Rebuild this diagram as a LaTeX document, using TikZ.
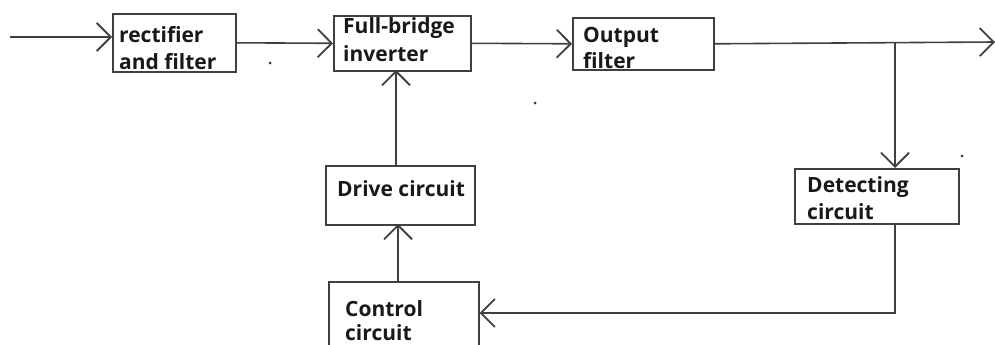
\documentclass[tikz,border=0pt]{standalone}
\usepackage{fontspec}
\setmainfont{Open Sans}
\usetikzlibrary{arrows.meta}
\begin{document}
\begin{tikzpicture}[x=1pt,y=-1pt,
  box/.style={draw=black!75, line width=1.6pt, fill=white, inner sep=0pt, anchor=north west},
  lbl/.style={anchor=base west, inner sep=0pt, font=\fontsize{21}{24}\selectfont\bfseries, text=black!90},
  conn/.style={draw=black!75, line width=1.6pt},
  arr/.style={conn, -{Straight Barb[length=14pt,width=28pt,line width=1.8pt]}},
  dot/.style={fill=black!80, circle, inner sep=0pt, minimum size=3pt}]
\useasboundingbox (0,0) rectangle (995,345);
\clip (0,0) rectangle (995,345);
\fill[white] (0,0) rectangle (995,345);
% boxes
\node[box, minimum width=123pt, minimum height=58pt] (rect) at (112,13) {};
\node[box, minimum width=137pt, minimum height=55pt] (fb) at (333,15) {};
\node[box, minimum width=141pt, minimum height=52pt] (of) at (572,17) {};
\node[box, minimum width=164pt, minimum height=55pt] (det) at (794,168) {};
\node[box, minimum width=149pt, minimum height=59pt] (drv) at (325,165) {};
\node[box, minimum width=150pt, minimum height=80pt] (ctl) at (328,281) {};
% labels
\node[lbl] (t1) at (119,43) {rectifier};
\node[lbl] (t2) at (119,70) {and filter};
\node[lbl] (t3) at (343,34) {Full-bridge};
\node[lbl] (t4) at (343,61) {inverter};
\node[lbl] (t5) at (583,42) {Output};
\node[lbl] (t6) at (583,68) {filter};
\node[lbl] (t7) at (807,192) {Detecting};
\node[lbl] (t8) at (807,219) {circuit};
\node[lbl] (t9) at (337,196) {Drive circuit};
\node[lbl] (t10) at (345,316) {Control};
\node[lbl] (t11) at (345,340) {circuit};
% coordinates
\coordinate (in) at (10,37);
\coordinate (out) at (995,42);
\coordinate (j) at (895,42);
\coordinate (c) at (895,313);
% connectors
\draw[arr] (in) -- (in -| rect.west);
\draw[arr] (rect.east) -- (fb.west);
\draw[arr] (fb.east) -- (of.west);
\draw[arr] (of.east) -- (out);
\draw[arr] (j) -- (j |- det.north);
\draw[arr] (det.south -| j) -- (c) -- (c -| ctl.east);
\draw[arr] (398,281) -- (398,224);
\draw[arr] (396,165) -- (396,70);
% stray dots
\node[dot] (d1) at (270,63) {};
\node[dot] (d2) at (535,103) {};
\node[dot] (d3) at (962,156) {};
\end{tikzpicture}
\end{document}
